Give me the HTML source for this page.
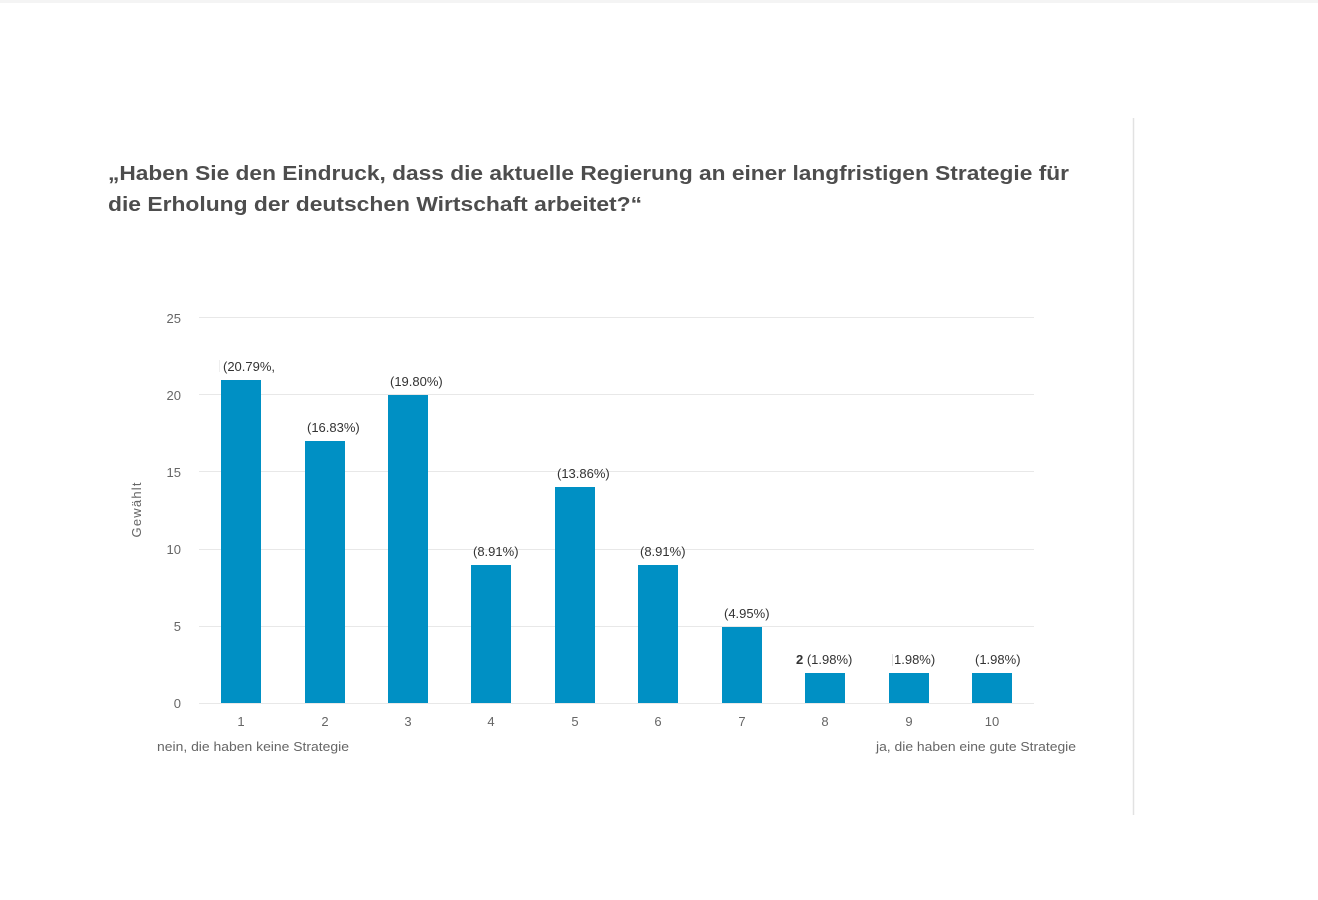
<!DOCTYPE html>
<html>
<head>
<meta charset="utf-8">
<style>
html,body{margin:0;padding:0;background:#fff;}
svg{display:block;}
text{font-family:"Liberation Sans",sans-serif;}
</style>
</head>
<body>
<svg width="1318" height="900" viewBox="0 0 1318 900" xmlns="http://www.w3.org/2000/svg">
<rect x="0" y="0" width="1318" height="900" fill="#fff"/>
<rect x="0" y="0" width="1318" height="3" fill="#f4f4f4"/>
<line x1="1133.5" y1="118" x2="1133.5" y2="815" stroke="#e2e2e2" stroke-width="1.5"/>

<!-- Title -->
<text x="108" y="180" font-size="20.5" font-weight="bold" fill="#4d4d4d" textLength="961" lengthAdjust="spacingAndGlyphs">„Haben Sie den Eindruck, dass die aktuelle Regierung an einer langfristigen Strategie für</text>
<text x="108" y="211" font-size="20.5" font-weight="bold" fill="#4d4d4d" textLength="534" lengthAdjust="spacingAndGlyphs">die Erholung der deutschen Wirtschaft arbeitet?“</text>

<!-- Grid -->
<g stroke="#e8e8e8" stroke-width="1">
<line x1="199" y1="317.5" x2="1034" y2="317.5"/>
<line x1="199" y1="394.5" x2="1034" y2="394.5"/>
<line x1="199" y1="471.5" x2="1034" y2="471.5"/>
<line x1="199" y1="549.5" x2="1034" y2="549.5"/>
<line x1="199" y1="626.5" x2="1034" y2="626.5"/>
<line x1="199" y1="703.5" x2="1034" y2="703.5"/>
</g>

<!-- Y ticks -->
<g font-size="13" fill="#666" text-anchor="end">
<text x="181" y="323">25</text>
<text x="181" y="400">20</text>
<text x="181" y="477">15</text>
<text x="181" y="554">10</text>
<text x="181" y="631">5</text>
<text x="181" y="708">0</text>
</g>
<text transform="translate(141,510) rotate(-90)" font-size="13" fill="#666" text-anchor="middle" textLength="55">Gewählt</text>

<!-- Bars -->
<g fill="#0090c4">
<rect x="221" y="380" width="40" height="323"/>
<rect x="305" y="441" width="40" height="262"/>
<rect x="388" y="395" width="40" height="308"/>
<rect x="471" y="565" width="40" height="138"/>
<rect x="555" y="487" width="40" height="216"/>
<rect x="638" y="565" width="40" height="138"/>
<rect x="722" y="627" width="40" height="76"/>
<rect x="805" y="673" width="40" height="30"/>
<rect x="889" y="673" width="40" height="30"/>
<rect x="972" y="673" width="40" height="30"/>
</g>

<!-- Data labels -->
<g font-size="13" fill="#333">
<text x="223" y="371">(20.79%,</text>
<text x="307" y="432">(16.83%)</text>
<text x="390" y="386">(19.80%)</text>
<text x="473" y="556">(8.91%)</text>
<text x="557" y="478">(13.86%)</text>
<text x="640" y="556">(8.91%)</text>
<text x="724" y="618">(4.95%)</text>
<text x="796" y="664"><tspan font-weight="bold">2</tspan> (1.98%)</text>
<text x="894" y="664">1.98%)</text>
<text x="975" y="664">(1.98%)</text>
</g>
<line x1="219.5" y1="360" x2="219.5" y2="372" stroke="#eee" stroke-width="1"/>
<line x1="892.5" y1="654" x2="892.5" y2="666" stroke="#ddd" stroke-width="1"/>

<!-- X ticks -->
<g font-size="13" fill="#666" text-anchor="middle">
<text x="241" y="726">1</text>
<text x="325" y="726">2</text>
<text x="408" y="726">3</text>
<text x="491" y="726">4</text>
<text x="575" y="726">5</text>
<text x="658" y="726">6</text>
<text x="742" y="726">7</text>
<text x="825" y="726">8</text>
<text x="909" y="726">9</text>
<text x="992" y="726">10</text>
</g>
<text x="157" y="751" font-size="13" fill="#666" textLength="192" lengthAdjust="spacingAndGlyphs">nein, die haben keine Strategie</text>
<text x="876" y="751" font-size="13" fill="#666" textLength="200" lengthAdjust="spacingAndGlyphs">ja, die haben eine gute Strategie</text>
</svg>
</body>
</html>
